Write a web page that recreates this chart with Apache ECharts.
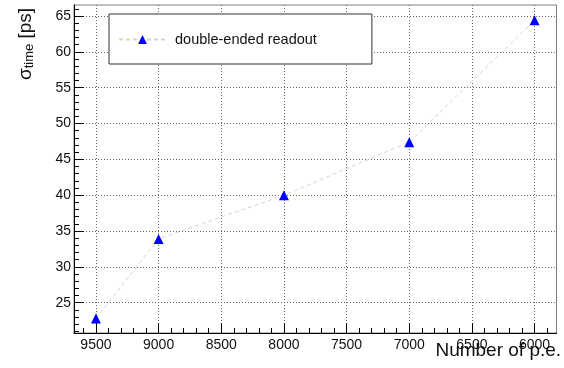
<!DOCTYPE html>
<html>
<head>
<meta charset="utf-8">
<script src="https://cdn.jsdelivr.net/npm/echarts@6/dist/echarts.min.js"></script>
<style>
html,body{margin:0;padding:0;background:#fff;}
#chart{width:564px;height:368px;}
</style>
</head>
<body>
<div id="chart"></div>
<script>
// ---- data ----
const peCounts = [9500, 9000, 8000, 7000, 6000];
const sigmaTime = [22.8, 33.9, 40.0, 47.4, 64.4];
const seriesName = 'double-ended readout';

// ---- axes ----
const xMin = 5825, xMax = 9675;
const yMin = 20.78, yMax = 66.53;
const xMajorTicks = [6000, 6500, 7000, 7500, 8000, 8500, 9000, 9500];
const yMajorTicks = [25, 30, 35, 40, 45, 50, 55, 60, 65];
const xMinorTicks = [];
for (let v = 5900; v <= 9600; v += 100) xMinorTicks.push(v);
const yMinorTicks = [];
for (let v = 21; v <= 66; v += 1) yMinorTicks.push(v);

const FONT = '"Liberation Sans", Arial, Helvetica, sans-serif';

const chart = echarts.init(document.getElementById('chart'), null, {renderer: 'canvas'});
const gridLine = {show: true, lineStyle: {color: '#666', width: 1, type: [1, 2]}};

chart.setOption({
  animation: false,
  backgroundColor: '#fff',
  grid: {left: 74, right: 7.5, top: 5, bottom: 35, containLabel: false, outerBoundsMode: 'none',
         show: true, borderColor: '#808080', borderWidth: 1, backgroundColor: 'transparent'},
  legend: {
    show: true,
    left: 109, top: 14,
    orient: 'horizontal',
    data: [seriesName],
    itemWidth: 47, itemHeight: 11,
    padding: [18, 55, 17, 9],
    borderColor: '#333', borderWidth: 1,
    backgroundColor: '#fff',
    textStyle: {fontFamily: FONT, fontSize: 14.5, color: '#111', padding: [0, 0, 0, 4]}
  },
  xAxis: [
    {
      type: 'value', min: xMin, max: xMax, inverse: true, position: 'bottom',
      name: 'Number of p.e.', nameLocation: 'middle', nameGap: 8, nameMoveOverlap: false,
      nameTextStyle: {fontFamily: FONT, fontSize: 19, color: '#111', verticalAlign: 'top', padding: [0, 0, 0, 366]},
      axisLine: {show: true, onZero: false, lineStyle: {color: '#000', width: 1}},
      axisTick: {show: true, inside: true, length: 10, customValues: xMajorTicks, lineStyle: {color: '#000'}},
      axisLabel: {show: true, customValues: xMajorTicks, margin: 5, fontFamily: FONT, fontSize: 14, color: '#111',
                  formatter: v => String(v)},
      splitLine: gridLine
    },
    {
      type: 'value', min: xMin, max: xMax, inverse: true, position: 'bottom', offset: 0,
      axisLine: {show: false},
      axisTick: {show: true, inside: true, length: 5, customValues: xMinorTicks, lineStyle: {color: '#000'}},
      axisLabel: {show: false},
      splitLine: {show: false}
    }
  ],
  yAxis: [
    {
      type: 'value', min: yMin, max: yMax, position: 'left',
      name: '{s|σ}{sub|time}{n| [ps]}', nameLocation: 'middle', nameGap: 38, nameRotate: 90, nameMoveOverlap: false,
      nameTextStyle: {
        fontFamily: FONT, fontSize: 19, color: '#111', padding: [0, 0, 0, 250],
        rich: {
          s: {fontFamily: FONT, fontSize: 19, color: '#111'},
          sub: {fontFamily: FONT, fontSize: 13, color: '#111', verticalAlign: 'bottom', padding: [8, 0, 0, 0]},
          n: {fontFamily: FONT, fontSize: 19, color: '#111'}
        }
      },
      axisLine: {show: true, onZero: false, lineStyle: {color: '#000', width: 1}},
      axisTick: {show: true, inside: true, length: 10, customValues: yMajorTicks, lineStyle: {color: '#000'}},
      axisLabel: {show: true, customValues: yMajorTicks, margin: 3, fontFamily: FONT, fontSize: 14, color: '#111',
                  formatter: v => String(v)},
      splitLine: gridLine
    },
    {
      type: 'value', min: yMin, max: yMax, position: 'left', offset: 0,
      axisLine: {show: false},
      axisTick: {show: true, inside: true, length: 5, customValues: yMinorTicks, lineStyle: {color: '#000'}},
      axisLabel: {show: false},
      splitLine: {show: false}
    }
  ],
  series: [{
    name: seriesName,
    type: 'line',
    xAxisIndex: 0, yAxisIndex: 0,
    data: peCounts.map((x, i) => [x, sigmaTime[i]]),
    symbol: 'triangle',
    symbolSize: 10,
    showAllSymbol: true,
    itemStyle: {color: '#0000ff'},
    lineStyle: {color: 'rgb(214,214,196)', width: 1, type: [4, 3]},
    z: 5
  }]
});
</script>
</body>
</html>
